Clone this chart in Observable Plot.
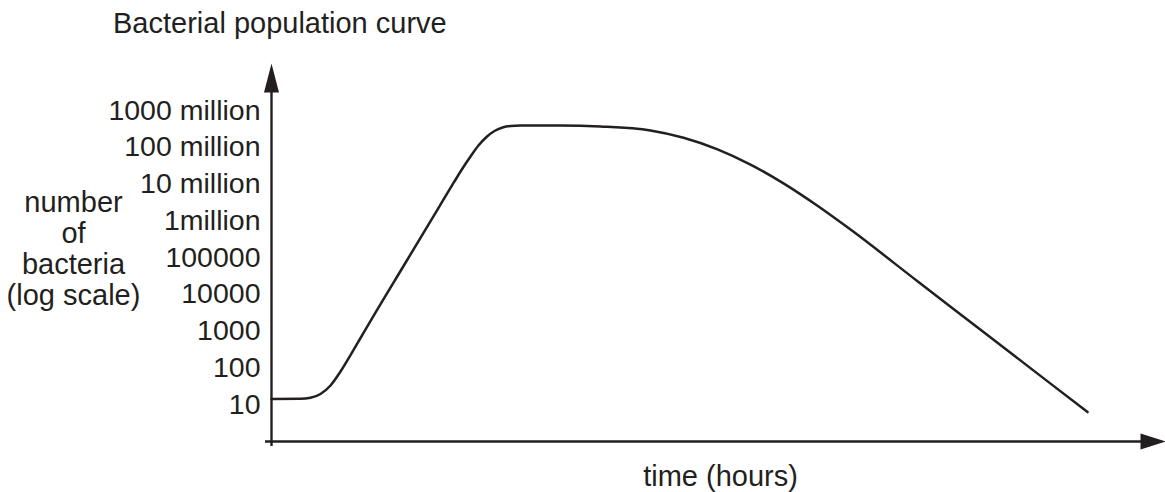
<!DOCTYPE html>
<html>
<head>
<meta charset="utf-8">
<script src="https://cdn.jsdelivr.net/npm/d3@7"></script>
<script src="https://cdn.jsdelivr.net/npm/@observablehq/plot@0.6"></script>
<style>
  html, body { margin: 0; padding: 0; background: #fff; }
  #title {
    font: 29px "Liberation Sans", Arial, Helvetica, sans-serif;
    height: 46px;
    line-height: 46px;
    padding-left: 113px;
    color: #231f20;
    white-space: nowrap;
  }
  #chart svg { display: block; }
</style>
</head>
<body>
<div id="title">Bacterial population curve</div>
<div id="chart"></div>
<script>
// Growth curve: time (arbitrary hours) and bacteria count (log scale)
const timeHours = [0, 3.24, 4.36, 5.48, 6.6, 7.72, 8.84, 9.96, 11.07, 14.77, 18.57, 20.36, 21.36, 22.26, 23.15, 24.05, 24.94, 25.84, 26.73, 27.85, 32.33, 36.8, 42.39, 46.09, 49.89, 53.58, 57.27, 61.07, 64.77, 72.26, 79.64, 87.14, 91.28];
const bacteriaCount = [10, 10.1, 10.8, 13.7, 23.3, 56, 157, 457, 1320, 41600, 1.43e6, 7.55e6, 1.87e7, 3.97e7, 7.9e7, 1.35e8, 1.96e8, 2.44e8, 2.69e8, 2.77e8, 2.77e8, 2.6e8, 2.02e8, 1.28e8, 6.2e7, 2.39e7, 7.36e6, 1.81e6, 4.07e5, 1.6e4, 665, 26.2, 4.4];

// Y tick positions and their printed labels
const tickValues = [10, 100, 1000, 1e4, 1e5, 1e6, 1e7, 1e8, 1e9];
const tickLabels = ["10", "100", "1000", "10000", "100000", "1million", "10 million", "100 million", "1000 million"];

const yLabel = "number\nof\nbacteria\n(log scale)";
const xLabel = "time (hours)";

const ink = "#231f20";
const font = "'Liberation Sans', Arial, Helvetica, sans-serif";

const growth = timeHours.map((t, i) => ({t, n: bacteriaCount[i]}));
const ticks = tickValues.map((v, i) => ({v, label: tickLabels[i]}));

const yMin = Math.pow(10, -0.1565);
const yMax = Math.pow(10, 10.129);

// Filled arrowheads with the tip at the symbol origin
const arrowUp = {draw(ctx) { ctx.moveTo(0, 0); ctx.lineTo(7.5, 29); ctx.lineTo(-7.5, 29); ctx.closePath(); }};
const arrowRight = {draw(ctx) { ctx.moveTo(0, 0); ctx.lineTo(-25, 8); ctx.lineTo(-25, -8); ctx.closePath(); }};

const chart = Plot.plot({
  width: 1165,
  height: 446,
  marginLeft: 271,
  marginRight: 0,
  marginTop: 17,
  marginBottom: 51,
  style: {fontFamily: font, color: ink, background: "#fff", overflow: "visible"},
  x: {domain: [0, 100], axis: null},
  y: {type: "log", domain: [yMin, yMax], axis: null},
  marks: [
    // axes
    Plot.ruleY([yMin], {stroke: ink, strokeWidth: 2.4, insetLeft: -6, insetRight: 12}),
    Plot.ruleX([0], {stroke: ink, strokeWidth: 2.4, insetBottom: -5, insetTop: 12}),
    Plot.dot([0], {frameAnchor: "top-left", symbol: arrowUp, fill: ink, stroke: null}),
    Plot.dot([0], {frameAnchor: "bottom-right", symbol: arrowRight, fill: ink, stroke: null}),
    // tick labels
    Plot.text(ticks, {frameAnchor: "left", y: "v", text: "label", textAnchor: "end", dx: -11, dy: 5.5, fontSize: 28.5, fill: ink}),
    // axis titles
    Plot.text([yLabel], {frameAnchor: "left", text: d => d, textAnchor: "middle", lineAnchor: "middle", dx: -198, dy: -4.3, lineHeight: 1.07, fontSize: 29, fill: ink}),
    Plot.text([xLabel], {frameAnchor: "bottom", text: d => d, lineAnchor: "middle", dx: 2, dy: 35, fontSize: 29, fill: ink}),
    // population curve
    Plot.line(growth, {x: "t", y: "n", curve: "monotone-x", stroke: ink, strokeWidth: 2.5})
  ]
});
document.getElementById("chart").appendChild(chart);
</script>
</body>
</html>
